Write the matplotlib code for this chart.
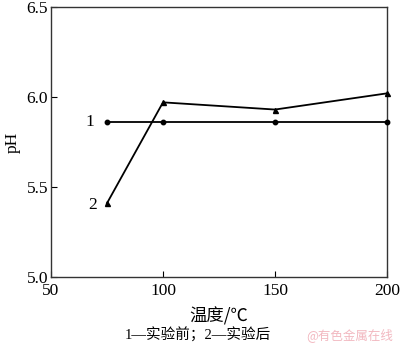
import matplotlib.pyplot as plt

# =====================================================
# Data
# =====================================================

temperature = [75, 100, 150, 200]

ph_before = [5.86, 5.86, 5.86, 5.86]

ph_after = [5.41, 5.97, 5.93, 6.02]

x_ticks = [50, 100, 150, 200]

y_ticks = [5.0, 5.5, 6.0, 6.5]

# =====================================================
# Fonts
# =====================================================

plt.rcParams["font.family"] = ["Liberation Serif", "Noto Sans CJK SC"]

# =====================================================
# Plot
# =====================================================

fig = plt.figure(figsize=(4, 3.45), dpi=100)
ax = fig.add_axes([0.1275, 0.197, 0.84, 0.783])

ax.plot(temperature, ph_before, color="black", lw=1.3,
        marker="o", markersize=3.2, clip_on=False, zorder=3)
ax.plot(temperature, ph_after, color="black", lw=1.3,
        marker="^", markersize=3.6, clip_on=False, zorder=3)

ax.set_xlim(50, 200)
ax.set_ylim(5.0, 6.5)
ax.set_xticks(x_ticks)
ax.set_yticks(y_ticks)
ax.set_yticklabels([f"{v:.1f}" for v in y_ticks])

ax.tick_params(direction="in", length=4, width=0.8, labelsize=12.5,
               colors="black")
ax.tick_params(axis="x", pad=4)
ax.tick_params(axis="y", pad=2)
for s in ax.spines.values():
    s.set_linewidth(1.0)
    s.set_color("#333333")

ax.text(temperature[0] - 5.5, ph_before[0], "1", fontsize=12.5,
        ha="right", va="center")
ax.text(temperature[0] - 4.5, ph_after[0] - 0.01, "2", fontsize=12.5,
        ha="right", va="center")

ax.set_ylabel("pH", fontsize=12.5, labelpad=4)
ax.set_xlabel("温度/℃", fontsize=12.5,
              family=["Noto Sans CJK SC", "Liberation Serif"], labelpad=6)

fig.text(0.495, 0.028, "1—实验前；2—实验后", fontsize=10.5,
         ha="center", va="center",
         family=["Liberation Serif", "Noto Sans CJK SC"])
fig.text(0.875, 0.028, "@有色金属在线", fontsize=9, color="#f2b8c0",
         ha="center", va="center",
         family=["Noto Sans CJK SC", "DejaVu Sans"])

plt.savefig("out.png", dpi=100)
